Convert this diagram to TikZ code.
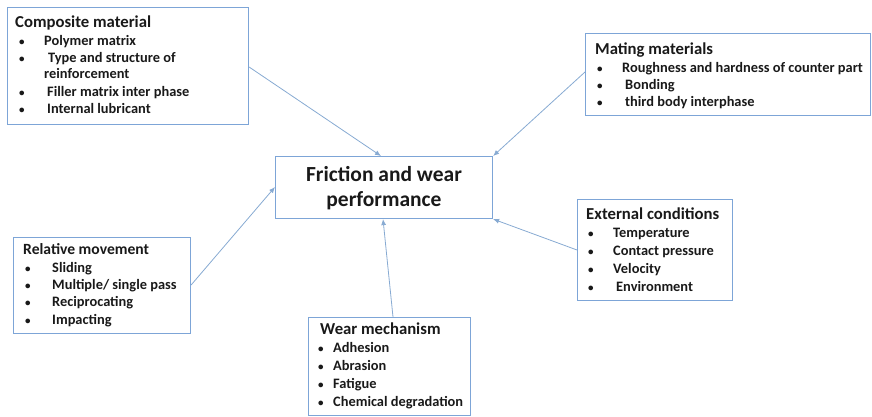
\documentclass[tikz,border=0pt]{standalone}
\usepackage{fontspec}
\setmainfont{Carlito}
\usetikzlibrary{arrows.meta}
\definecolor{boxblue}{RGB}{125,165,215}
\definecolor{arrblue}{RGB}{135,170,210}
\definecolor{txt}{RGB}{25,25,25}
\tikzset{
  x=1pt,y=-1pt,
  boxnode/.style={draw=boxblue,line width=1.1pt,inner sep=0,anchor=north west},
  ttl/.style={anchor=mid west,inner sep=0,yshift=-2pt,font=\bfseries\fontsize{16.7}{18}\selectfont,text=txt},
  itm/.style={anchor=mid west,inner sep=0,yshift=-2pt,font=\bfseries\fontsize{14.4}{16}\selectfont,text=txt},
  bul/.style={anchor=mid west,inner sep=0,yshift=-2pt,font=\bfseries\fontsize{11}{12}\selectfont,text=txt},
  conn/.style={draw=arrblue,line width=0.8pt,-{Latex[length=6pt,width=5pt]}}
}
\begin{document}
\begin{tikzpicture}
\useasboundingbox (0,0) rectangle (872,417);
% boxes
\node[boxnode,minimum width=241pt,minimum height=117pt] (comp) at (7,7) {};
\node[boxnode,minimum width=285pt,minimum height=82pt] (mate) at (585,33) {};
\node[boxnode,minimum width=217pt,minimum height=62pt] (fw) at (275,156) {};
\node[boxnode,minimum width=155pt,minimum height=101pt] (ext) at (577,199) {};
\node[boxnode,minimum width=177pt,minimum height=96pt] (rel) at (13,237) {};
\node[boxnode,minimum width=162pt,minimum height=98pt] (wear) at (308,317) {};
% central text
\node[inner sep=0,font=\bfseries\fontsize{21.5}{25}\selectfont,text=txt,align=center] (fwt) at (384,188) {Friction and wear\\performance};
% composite
\node[ttl] (c0) at (15,23) {Composite material};
\node[bul] (cb1) at (19,41) {•}; \node[itm] (c1) at (44,41) {Polymer matrix};
\node[bul] (cb2) at (19,58) {•}; \node[itm] (c2) at (48,58) {Type and structure of};
\node[itm] (c2b) at (44,74.5) {reinforcement};
\node[bul] (cb3) at (19,92) {•}; \node[itm] (c3) at (47,92) {Filler matrix inter phase};
\node[bul] (cb4) at (19,109.5) {•}; \node[itm] (c4) at (47,109.5) {Internal lubricant};
% mating
\node[ttl] (m0) at (595,50) {Mating materials};
\node[bul] (mb1) at (597,68) {•}; \node[itm] (m1) at (622,68) {Roughness and hardness of counter part};
\node[bul] (mb2) at (597,85) {•}; \node[itm] (m2) at (625,85) {Bonding};
\node[bul] (mb3) at (597,102) {•}; \node[itm] (m3) at (625,102) {third body interphase};
% external
\node[ttl] (e0) at (586,215) {External conditions};
\node[bul] (eb1) at (588,233) {•}; \node[itm] (e1) at (613,233) {Temperature};
\node[bul] (eb2) at (588,251) {•}; \node[itm] (e2) at (613,251) {Contact pressure};
\node[bul] (eb3) at (588,269) {•}; \node[itm] (e3) at (613,269) {Velocity};
\node[bul] (eb4) at (588,287) {•}; \node[itm] (e4) at (616,287) {Environment};
% relative
\node[ttl,font=\bfseries\fontsize{15.6}{17}\selectfont] (r0) at (23,250) {Relative movement};
\node[bul] (rb1) at (25,268) {•}; \node[itm] (r1) at (52,268) {Sliding};
\node[bul] (rb2) at (25,285) {•}; \node[itm] (r2) at (52,285) {Multiple/ single pass};
\node[bul] (rb3) at (25,302) {•}; \node[itm] (r3) at (52,302) {Reciprocating};
\node[bul] (rb4) at (25,320) {•}; \node[itm] (r4) at (52,320) {Impacting};
% wear
\node[ttl] (w0) at (320,330) {Wear mechanism};
\node[bul] (wb1) at (318,348) {•}; \node[itm] (w1) at (333,348) {Adhesion};
\node[bul] (wb2) at (318,366) {•}; \node[itm] (w2) at (333,366) {Abrasion};
\node[bul] (wb3) at (318,384) {•}; \node[itm] (w3) at (333,384) {Fatigue};
\node[bul] (wb4) at (318,402) {•}; \node[itm] (w4) at (333,402) {Chemical degradation};
% connectors
\draw[conn] (comp.east |- 0,67) -- (fw.north -| 381,0);
\draw[conn] (mate.west |- 0,72) -- (fw.north east);
\draw[conn] (ext.west |- 0,250) -- (fw.south east);
\draw[conn] (rel.east |- 0,285) -- (fw.west |- 0,187);
\draw[conn] (wear.north -| 393,0) -- (fw.south -| 383,0);
\end{tikzpicture}
\end{document}
